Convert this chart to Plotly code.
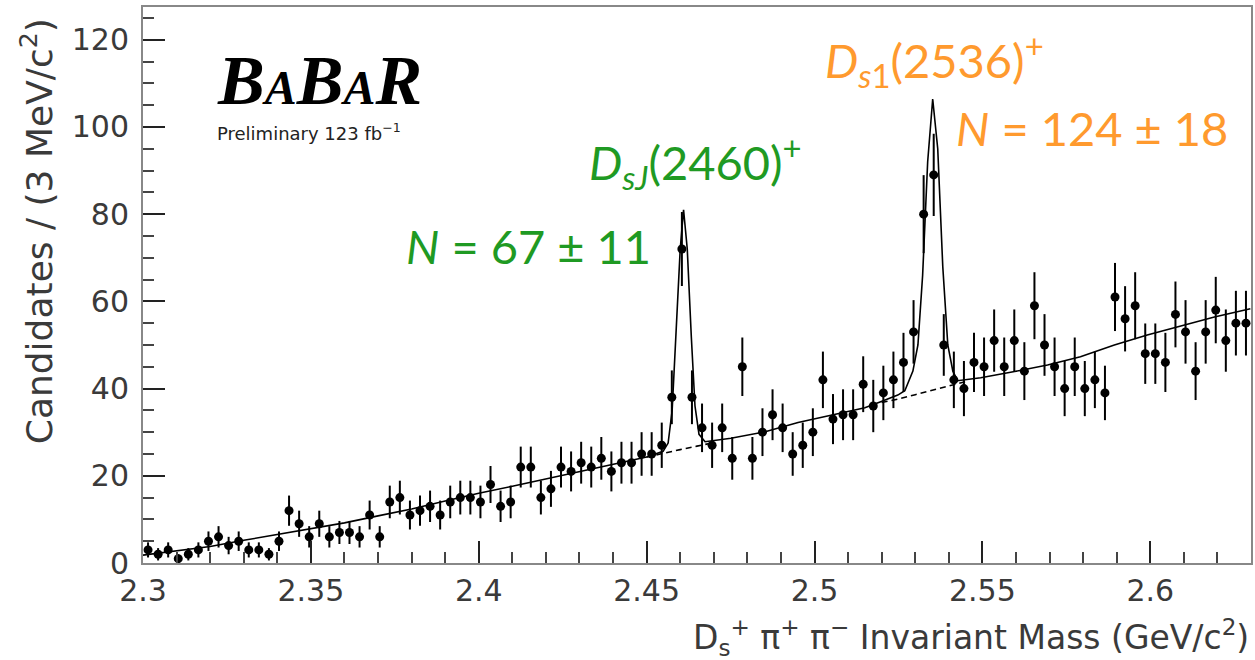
import numpy as np
import plotly.graph_objects as go

# --- Histogram: D_s+ pi+ pi- invariant mass, 3 MeV/c^2 bins from 2.300 to 2.630 GeV/c^2
bin_lo = 2.300
bin_width = 0.003
counts = [
    3, 2, 3, 1, 2, 3, 5, 6, 4, 5,
    3, 3, 2, 5, 12, 9, 6, 9, 6, 7,
    7, 6, 11, 6, 14, 15, 11, 12, 13, 11,
    14, 15, 15, 14, 18, 13, 14, 22, 22, 15,
    17, 22, 21, 23, 22, 24, 21, 23, 23, 25,
    25, 27, 38, 72, 38, 31, 27, 31, 24, 45,
    24, 30, 34, 31, 25, 27, 30, 42, 33, 34,
    34, 41, 36, 39, 42, 46, 53, 80, 89, 50,
    42, 40, 46, 45, 51, 45, 51, 44, 59, 50,
    45, 40, 45, 40, 42, 39, 61, 56, 59, 48,
    48, 46, 57, 53, 44, 53, 58, 51, 55, 55,
]
bin_centers = [round(bin_lo + bin_width * (i + 0.5), 4) for i in range(len(counts))]
count_errors = np.sqrt(np.array(counts, dtype=float))

# --- Total fit (signal + background), sampled along the curve
fit_x = [
    2.300, 2.310, 2.320, 2.330, 2.340, 2.350, 2.360, 2.370, 2.380, 2.390,
    2.400, 2.410, 2.420, 2.430, 2.440, 2.450, 2.4549, 2.4564, 2.4576, 2.4588,
    2.4600, 2.4610, 2.4621, 2.4633, 2.4644, 2.4656, 2.4674, 2.4751, 2.4853, 2.4951,
    2.5049, 2.5099, 2.5150, 2.5197, 2.5248, 2.5269, 2.5293, 2.5308, 2.5322, 2.5337,
    2.5352, 2.5367, 2.5382, 2.5397, 2.5412, 2.5426, 2.5495, 2.5596, 2.5694, 2.5792,
    2.5893, 2.5991, 2.6089, 2.6191, 2.6298,
]
fit_y = [
    1.8, 2.8, 3.8, 5.2, 6.5, 7.8, 9.2, 10.8, 12.4, 14.2,
    16.0, 17.6, 19.3, 21.0, 22.6, 24.3, 25.6, 27.5, 35.0, 52.0,
    72.0, 81.0, 72.0, 52.0, 36.0, 29.5, 27.8, 28.6, 30.1, 32.2,
    33.8, 34.6, 35.6, 37.0, 38.5, 39.5, 44.0, 50.0, 66.0, 92.0,
    106.4, 95.0, 68.0, 50.0, 44.0, 41.8, 42.5, 43.9, 45.4, 47.3,
    50.0, 52.3, 54.3, 56.4, 58.3,
]

# --- Background component under the two peaks (dashed)
bkg1_x = [2.450, 2.455, 2.460, 2.465, 2.470]
bkg1_y = [24.3, 25.2, 26.0, 26.8, 27.6]
bkg2_x = [2.520, 2.525, 2.530, 2.535, 2.540, 2.545]
bkg2_y = [36.8, 37.6, 38.6, 39.6, 40.6, 41.6]

x_range = [2.3, 2.63]
y_range = [0, 127.5]

axis_family = "DejaVu Sans, Verdana, sans-serif"
tick_font = dict(family=axis_family, size=30, color="#3a3a3a")
label_font = "Lato, Open Sans, sans-serif"
green = "#1f9a23"
orange = "#ff9a2e"

fig = go.Figure()

fig.add_trace(go.Scatter(
    x=fit_x, y=fit_y, mode="lines",
    line=dict(color="black", width=1.6),
    hoverinfo="skip", showlegend=False,
))
for bx, by in ((bkg1_x, bkg1_y), (bkg2_x, bkg2_y)):
    fig.add_trace(go.Scatter(
        x=bx, y=by, mode="lines",
        line=dict(color="black", width=1.6, dash="6px,4px"),
        hoverinfo="skip", showlegend=False,
    ))

fig.add_trace(go.Scatter(
    x=bin_centers, y=counts, mode="markers",
    marker=dict(color="black", size=9),
    error_y=dict(type="data", array=count_errors, color="black", thickness=2, width=0),
    showlegend=False,
))

common_axis = dict(
    ticks="inside", tickwidth=2, tickcolor="#222222", ticklen=22,
    showline=True, linecolor="#888888", linewidth=2, mirror=True,
    showgrid=False, zeroline=False, tickfont=tick_font, showticklabels=True,
)

fig.update_layout(
    width=1255, height=660,
    margin=dict(l=143, r=2, t=7, b=97),
    paper_bgcolor="white", plot_bgcolor="white",
    xaxis=dict(
        range=x_range, tickmode="linear", tick0=2.3, dtick=0.05,
        minor=dict(tickmode="linear", tick0=2.3, dtick=0.01, ticks="inside",
                   ticklen=11, tickwidth=2, tickcolor="#444444"),
        **common_axis,
    ),
    yaxis=dict(
        range=y_range, tickmode="linear", tick0=0, dtick=20,
        minor=dict(tickmode="linear", tick0=0, dtick=5, ticks="inside",
                   ticklen=11, tickwidth=2, tickcolor="#444444"),
        ticklabelstandoff=6,
        **common_axis,
    ),
)

annotations = [
    # axis titles
    dict(text="D<sub>s</sub><sup>+</sup> π<sup>+</sup> π<sup>−</sup> Invariant Mass (GeV/c<sup>2</sup>)",
         xref="paper", yref="paper", x=1.0, y=-0.134, xanchor="right", yanchor="middle",
         showarrow=False, font=dict(family=axis_family, size=33, color="#3a3a3a")),
    dict(text="Candidates / (3 MeV/c<sup>2</sup>)",
         xref="paper", yref="paper", x=-0.0955, y=0.597, xanchor="center", yanchor="middle",
         textangle=-90, showarrow=False, font=dict(family=axis_family, size=36, color="#3a3a3a")),
    # experiment label
    dict(text="<b><i>B<span style='font-size:48px'>A</span>B<span style='font-size:48px'>A</span>R</i></b>",
         xref="paper", yref="paper", x=0.0649, y=0.867, xanchor="left", yanchor="middle",
         showarrow=False, font=dict(family="Liberation Serif, Times New Roman, serif", size=70, color="black")),
    dict(text="Preliminary 123 fb<sup>−1</sup>",
         xref="paper", yref="paper", x=0.0649, y=0.775, xanchor="left", yanchor="middle",
         showarrow=False, font=dict(family=axis_family, size=18, color="#222222")),
    # peak labels
    dict(text="<i>D</i><sub><i>sJ</i></sub>(2460)<sup>+</sup>",
         xref="paper", yref="paper", x=0.401, y=0.721, xanchor="left", yanchor="middle",
         showarrow=False, font=dict(family=label_font, size=47, color=green)),
    dict(text="<i>N</i> = 67 ± 11",
         xref="paper", yref="paper", x=0.236, y=0.571, xanchor="left", yanchor="middle",
         showarrow=False, font=dict(family=label_font, size=47, color=green)),
    dict(text="<i>D</i><sub><i>s</i>1</sub>(2536)<sup>+</sup>",
         xref="paper", yref="paper", x=0.614, y=0.903, xanchor="left", yanchor="middle",
         showarrow=False, font=dict(family=label_font, size=47, color=orange)),
    dict(text="<i>N</i> = 124 ± 18",
         xref="paper", yref="paper", x=0.7315, y=0.782, xanchor="left", yanchor="middle",
         showarrow=False, font=dict(family=label_font, size=47, color=orange)),
]
fig.update_layout(annotations=annotations)

fig.write_html("out.html")
